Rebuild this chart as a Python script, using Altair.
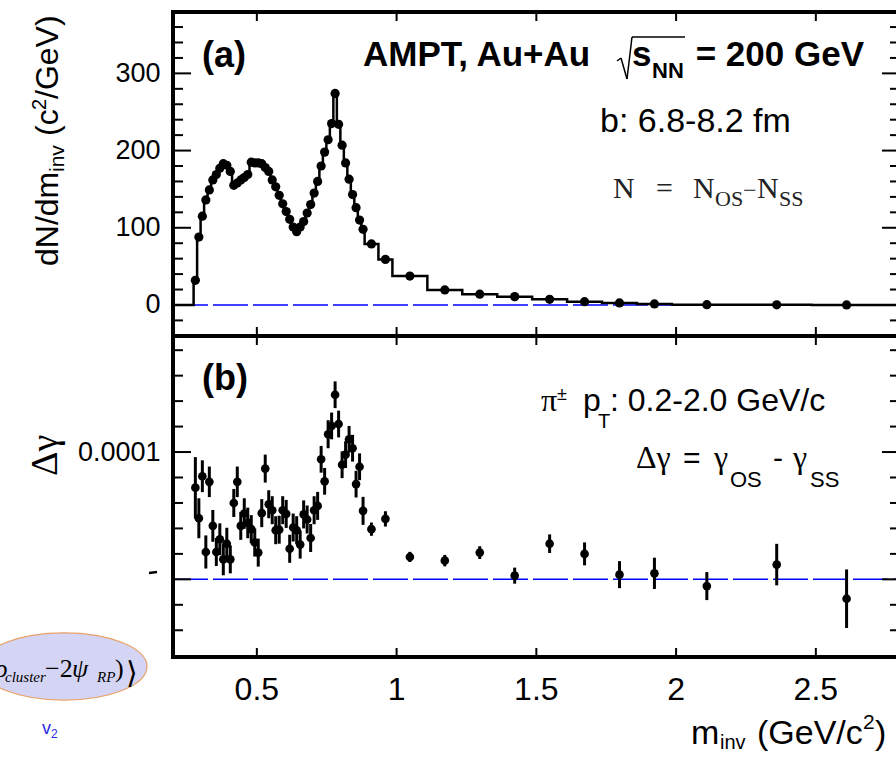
import altair as alt
import pandas as pd

# ---------------- data ----------------
m_center = [0.28, 0.2925, 0.305, 0.3175, 0.33, 0.3425, 0.355, 0.3675, 0.38, 0.3925,
            0.405, 0.4175, 0.43, 0.4425, 0.455, 0.4675, 0.48, 0.4925, 0.505, 0.5175,
            0.53, 0.5425, 0.555, 0.5675, 0.58, 0.5925, 0.605, 0.6175, 0.63, 0.6425,
            0.655, 0.6675, 0.68, 0.6925, 0.705, 0.7175, 0.73, 0.7425, 0.755, 0.7675,
            0.78, 0.7925, 0.805, 0.8175, 0.83, 0.8425, 0.855, 0.8675, 0.88,
            0.91, 0.96, 1.0475, 1.1725, 1.2975, 1.4225, 1.5475, 1.6725, 1.7975, 1.9225,
            2.11, 2.36, 2.61]
bin_width = [0.0125] * 49 + [0.04875, 0.05] + [0.125] * 8 + [0.25] * 3

dndm = [32, 88, 115, 136, 149, 162, 169, 177, 183, 181,
        173, 155, 158, 162, 165, 169, 185, 184, 184, 183,
        178, 173, 162, 153, 142, 131, 121, 111, 101, 95,
        101, 108, 119, 130, 145, 160, 180, 198, 214, 235,
        274, 234, 207, 184, 163, 143, 126, 110, 98,
        79, 59, 37.5, 19.5, 14, 10.8, 7.3, 4.3, 2.6, 1.3,
        0.4, 0.2, 0.1]

# delta gamma in units of 1e-5
dgamma_e5 = [7.2, 4.8, 8.1, 2.15, 7.66, 4.2, 2.15, 3.15, 1.57, 2.8,
             1.57, 6.0, 7.66, 4.2, 5.17, 4.43, 3.94, 2.89, 2.1, 5.2,
             8.7, 5.9, 5.43, 3.86, 3.9, 5.43, 5.14, 2.4, 4.07, 3.86,
             2.73, 5.1, 4.7, 3.25, 5.43, 5.77, 9.43, 7.7, 11.4, 12.05,
             14.5, 12.2, 9.0, 9.8, 11.0, 10.3, 7.48, 8.84, 5.38,
             3.94, 4.75, 1.76, 1.47, 2.1, 0.29, 2.8, 2.0, 0.37, 0.47,
             -0.53, 1.16, -1.52]
dgamma_err_e5 = [2.4, 1.57, 1.25, 1.3, 1.2, 1.25, 1.1, 1.25, 1.25, 1.25,
                 1.1, 1.1, 1.2, 1.1, 1.2, 1.2, 1.1, 1.1, 1.1, 1.1,
                 1.1, 1.1, 1.1, 1.1, 1.1, 1.1, 1.1, 1.1, 1.1, 1.1,
                 1.1, 1.1, 1.1, 1.1, 1.1, 1.1, 1.05, 1.05, 1.1, 1.05,
                 1.05, 1.05, 1.05, 1.05, 1.05, 1.05, 1.05, 1.05, 1.1,
                 0.52, 0.6, 0.4, 0.45, 0.5, 0.63, 0.73, 0.9, 1.06, 1.23,
                 1.1, 1.63, 2.3]

x_major = [0.5, 1.0, 1.5, 2.0, 2.5]
x_labels = ["0.5", "1", "1.5", "2", "2.5"]
ytop_major = [0, 100, 200, 300]
ytop_minor = [-20, 20, 40, 60, 80, 120, 140, 160, 180, 220, 240, 260, 280, 320, 340, 360]
ybot_major = [0.0, 0.0001]
ybot_minor = [-4e-5, -2e-5, 2e-5, 4e-5, 6e-5, 8e-5, 1.2e-4, 1.4e-4, 1.6e-4, 1.8e-4]

# ---------------- layout ----------------
OX, OY = 173, 12          # page position of plot origin
W, H = 723, 645           # plot area (both panels)
SPLIT = 324               # panel boundary inside plot area
XMIN, XMAX = 0.2, 2.7868
TOTAL_H = 754

xs = alt.Scale(domain=[XMIN, XMAX], nice=False, zero=False)
ys_top = alt.Scale(domain=[-456.0, 379.5], nice=False, zero=False)
ys_bot = alt.Scale(domain=[-6.10e-5, 4.4565e-4], nice=False, zero=False)

df = pd.DataFrame({"m": m_center, "w": bin_width, "dndm": dndm,
                   "dg": [v * 1e-5 for v in dgamma_e5],
                   "err": [e * 1e-5 for e in dgamma_err_e5]})
df["lo"] = df["dg"] - df["err"]
df["hi"] = df["dg"] + df["err"]
df["edge"] = df["m"] - df["w"] / 2

step_x = [XMIN] + list(df["edge"]) + [df["m"].iloc[-1] + df["w"].iloc[-1] / 2, XMAX]
step_y = [0] + list(dndm) + [0, 0]
steps = pd.DataFrame({"x": step_x, "y": step_y, "o": list(range(len(step_x)))})

dummy = pd.DataFrame({"k": [0]})
FS = "Liberation Sans"
FR = "Liberation Serif"


def X(field):
    return alt.X(field, type="quantitative", scale=xs, axis=None)


def txt(s, px, py, size, font=FS, weight="normal", style="normal", angle=0,
        align="left", baseline="alphabetic", color="black"):
    return alt.Chart(dummy).mark_text(
        text=s, font=font, fontSize=size, fontWeight=weight, fontStyle=style,
        angle=angle, align=align, baseline=baseline, color=color
    ).encode(x=alt.value(px - OX), y=alt.value(py - OY))


def seg(x0, y0, x1, y1, width=1.5, color="black"):
    return alt.Chart(dummy).mark_rule(color=color, strokeWidth=width).encode(
        x=alt.value(x0 - OX), y=alt.value(y0 - OY),
        x2=alt.value(x1 - OX), y2=alt.value(y1 - OY))


layers = []

# dashed zero lines
layers.append(alt.Chart(pd.DataFrame({"v": [0]})).mark_rule(
    color="#0000ff", strokeWidth=1.5, strokeDash=[35, 5]).encode(
    y=alt.Y("v:Q", scale=ys_top, axis=None), x=alt.value(0), x2=alt.value(W)))
layers.append(alt.Chart(pd.DataFrame({"v": [0]})).mark_rule(
    color="#0000ff", strokeWidth=1.5, strokeDash=[35, 5]).encode(
    y=alt.Y("v:Q", scale=ys_bot, axis=None), x=alt.value(0), x2=alt.value(W)))

# histogram step line
layers.append(alt.Chart(steps).mark_line(interpolate="step-after", color="black",
                                         strokeWidth=2.5).encode(
    x=X("x"), y=alt.Y("y:Q", scale=ys_top, axis=None), order="o:Q"))

# top points
top_axis = alt.Axis(values=ytop_major, format="d", orient="left", labelFontSize=27,
                    labelFont=FS, labelColor="black", labelPadding=13, ticks=False,
                    tickSize=0, domain=False, grid=False, title=None)
layers.append(alt.Chart(df).mark_circle(size=85, color="black", opacity=1).encode(
    x=X("m"), y=alt.Y("dndm:Q", scale=ys_top, axis=top_axis)))

# bottom error bars and points
layers.append(alt.Chart(df).mark_rule(color="black", strokeWidth=3).encode(
    x=X("m"), y=alt.Y("lo:Q", scale=ys_bot, axis=None), y2="hi:Q"))
bot_axis = alt.Axis(values=[0.0001], format=".4f", orient="left", labelFontSize=27,
                    labelFont=FS, labelColor="black", labelPadding=13, ticks=False,
                    tickSize=0, domain=False, grid=False, title=None)
layers.append(alt.Chart(df).mark_circle(size=75, color="black", opacity=1).encode(
    x=X("m"), y=alt.Y("dg:Q", scale=ys_bot, axis=bot_axis)))


# y ticks (inward, both sides)
def yticks(vals, scale, x0, x1):
    return alt.Chart(pd.DataFrame({"v": vals})).mark_rule(color="black", strokeWidth=2).encode(
        y=alt.Y("v:Q", scale=scale, axis=None), x=alt.value(x0), x2=alt.value(x1))


layers += [yticks(ytop_major, ys_top, 0, 18), yticks(ytop_minor, ys_top, 0, 10),
           yticks(ytop_major, ys_top, W - 14, W), yticks(ytop_minor, ys_top, W - 6, W),
           yticks(ybot_major, ys_bot, 0, 18), yticks(ybot_minor, ys_bot, 0, 10),
           yticks(ybot_major, ys_bot, W - 14, W), yticks(ybot_minor, ys_bot, W - 6, W)]

# x ticks
xt = pd.DataFrame({"m": x_major, "lab": x_labels})


def xticks(y0, y1):
    return alt.Chart(xt).mark_rule(color="black", strokeWidth=2).encode(
        x=X("m"), y=alt.value(y0), y2=alt.value(y1))


layers += [xticks(0, 9), xticks(SPLIT - 9, SPLIT), xticks(SPLIT, SPLIT + 9),
           xticks(H - 9, H)]

# x tick labels
layers.append(alt.Chart(xt).mark_text(font=FS, fontSize=32, align="center",
                                      baseline="alphabetic", color="black").encode(
    x=X("m"), y=alt.value(700 - OY), text="lab:N"))

# frame (left, top, middle, bottom)
for (a, b, c, d) in [(0, -2, 0, H + 2), (-2, 0, W, 0), (0, SPLIT, W, SPLIT), (-2, H, W, H)]:
    layers.append(alt.Chart(dummy).mark_rule(color="black", strokeWidth=4).encode(
        x=alt.value(a), y=alt.value(b), x2=alt.value(c), y2=alt.value(d)))

# ---------------- annotations ----------------
layers += [
    txt("(a)", 202, 67, 36, weight="bold"),
    txt("(b)", 202, 390, 36, weight="bold"),
    txt("AMPT, Au+Au", 363, 66, 35, weight="bold"),
    seg(617, 61, 621, 58), seg(621, 58, 627, 79), seg(627, 79, 632, 37), seg(632, 37, 685, 37),
    txt("s", 632, 66, 35, weight="bold"),
    txt("NN", 652, 78, 22, weight="bold"),
    txt("= 200 GeV", 864, 66, 35, weight="bold", align="right"),
    txt("b: 6.8-8.2 fm", 600, 132, 34),
    # N = N_OS - N_SS
    txt("N", 613, 198, 30, font=FR, color="#222222"),
    txt("=", 656, 198, 30, font=FR, color="#222222"),
    txt("N", 693, 198, 30, font=FR, color="#222222"),
    txt("OS", 715, 206, 22, font=FR, color="#222222"),
    txt("\u2212", 743, 198, 24, font=FR, color="#222222"),
    txt("N", 757, 198, 30, font=FR, color="#222222"),
    txt("SS", 779, 206, 22, font=FR, color="#222222"),
    # pi+- pT
    txt("\u03c0", 541, 411, 32, font=FR),
    txt("\u00b1", 557, 400, 18),
    txt("p", 583, 411, 32),
    txt("T", 598, 428, 20),
    txt(": 0.2-2.0 GeV/c", 610, 411, 32),
    # delta gamma definition
    txt("\u0394\u03b3", 636, 468, 32, font=FR),
    txt("=", 683, 468, 30),
    txt("\u03b3", 714, 468, 32, font=FR),
    txt("OS", 730, 487, 22),
    txt("-", 773, 468, 30),
    txt("\u03b3", 793, 468, 32, font=FR),
    txt("SS", 810, 487, 22),
    # y titles (rotated)
    txt("dN/dm", 58, 266, 32, angle=270),
    txt("inv", 64, 172, 21, angle=270),
    txt("(c", 58, 136, 32, angle=270),
    txt("2", 46, 110, 20, angle=270),
    txt("/GeV)", 58, 99, 32, angle=270),
    txt("\u0394\u03b3", 57, 476, 38, font=FR, angle=270),
    # x title
    txt("m", 691, 744, 34),
    txt("inv", 720, 749, 20),
    txt("(GeV/c", 757, 744, 34),
    txt("2", 863, 729, 21),
    txt(")", 875, 744, 34),
    # clipped remnant of a label at the left of the lower panel
    seg(149, 573, 157, 572, width=2.5),
]

# stray overlay at the bottom-left (ellipse with formula fragment)
layers.append(alt.Chart(dummy).mark_point(
    shape="M -1 0 A 1 0.404 0 1 0 1 0 A 1 0.404 0 1 0 -1 0", size=27556, filled=True,
    fill="#d4d4f4", stroke="#e8a068", strokeWidth=1.2, opacity=1).encode(
    x=alt.value(64 - OX), y=alt.value(666.5 - OY)))
layers += [
    txt("\u03c1", -5, 677, 26, font=FR, style="italic"),
    txt("cluster", 5, 682, 15, font=FR, style="italic"),
    txt("\u22122", 45, 677, 26, font=FR),
    txt("\u03c8", 72, 677, 26, font=FR, style="italic"),
    txt("RP", 97, 682, 15, font=FR, style="italic"),
    txt(")", 115, 677, 26, font=FR),
    txt("\u27e9", 126, 683, 30, font="DejaVu Sans"),
    txt("v", 42, 734, 18, color="#2a2ae0"),
    txt("2", 51, 738, 12, color="#2a2ae0"),
]

chart = alt.layer(*layers).resolve_scale(y="independent").properties(
    width=W, height=H,
    autosize=alt.AutoSizeParams(type="none"),
    padding={"left": OX, "top": OY, "right": 0, "bottom": TOTAL_H - OY - H},
    background="white",
).configure_view(stroke=None)

chart.save("out.html", embed_options={"renderer": "svg", "actions": False})
